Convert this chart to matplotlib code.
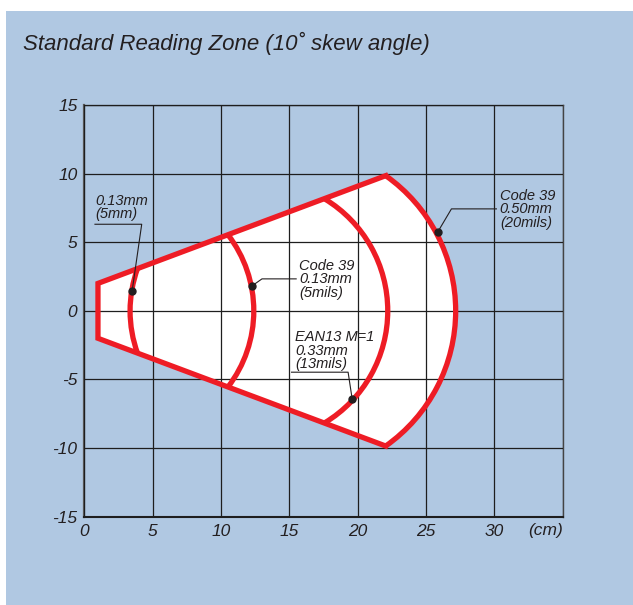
import numpy as np
import matplotlib.pyplot as plt
from matplotlib.patches import Polygon, Wedge, Arc, Rectangle

# axis ticks
x_ticks = [0, 5, 10, 15, 20, 25, 30, 35]
x_labels = ["0", "5", "10", "15", "20", "25", "30", ""]
y_ticks = [-15, -10, -5, 0, 5, 10, 15]
y_labels = ["-15", "-10", "-5", "0", "5", "10", "15"]

# reading zone outline (cm): left edge, apex of the cone
front_x = 1.0
front_half = 2.0
apex_x = 22.05
apex_y = 9.85

# arcs: (top end x, top end y, vertex x on the axis)
arc_ends_x = [3.9, 10.5, 17.6, 22.05]
arc_ends_y = [3.1, 5.56, 8.15, 9.85]
arc_vertex_x = [3.35, 12.4, 22.2, 27.17]

# callouts
label_texts = ["0.13mm\n(5mm)",
               "Code 39\n0.13mm\n(5mils)",
               "EAN13 M=1\n0.33mm\n(13mils)",
               "Code 39\n0.50mm\n(20mils)"]
label_x = [0.8, 15.7, 15.45, 30.4]
label_y = [8.55, 3.8, -1.4, 8.9]
dot_x = [3.5, 12.3, 19.6, 25.88]
dot_y = [1.46, 1.84, -6.44, 5.78]
leader_x = [[0.78, 4.2, 3.5], [12.3, 13.0, 15.5], [15.16, 19.3, 19.6], [25.88, 26.86, 30.15]]
leader_y = [[6.31, 6.31, 1.46], [1.84, 2.33, 2.33], [-4.47, -4.47, -6.44], [5.78, 7.43, 7.43]]

RED = "#ee1c25"
BLUE = "#b0c8e2"
INK = "#231f20"
FONT = "Liberation Sans"


def circle_through(ex, ey, vx):
    # circle centred on the x axis passing through (ex, +-ey) and (vx, 0)
    c = (vx ** 2 - ex ** 2 - ey ** 2) / (2 * (vx - ex))
    r = abs(vx - c)
    t = np.degrees(np.arctan2(ey, ex - c))
    if vx > c:
        return c, r, -t, t
    return c, r, t, 360 - t


fig = plt.figure(figsize=(6.33, 6.05), dpi=100)
fig.patch.set_facecolor("white")
fig.patches.append(Rectangle((6 / 633, 0), 1, 1 - 11 / 605, transform=fig.transFigure,
                             facecolor=BLUE, edgecolor="none", zorder=-10))

ax = fig.add_axes([84.3 / 633, 1 - 516.7 / 605, (562.7 - 84.3) / 633, (516.7 - 105) / 605])
ax.set_zorder(1)
ax.set_facecolor(BLUE)
ax.set_xlim(0, 35)
ax.set_ylim(-15, 15)

# white zone
ax.add_patch(Polygon([(front_x, -front_half), (front_x, front_half), (apex_x, apex_y), (apex_x, -apex_y)],
                     closed=True, facecolor="white", edgecolor="white", linewidth=0.5, zorder=1))
c, r, t1, t2 = circle_through(arc_ends_x[-1], arc_ends_y[-1], arc_vertex_x[-1])
ax.add_patch(Wedge((c, 0), r, t1, t2, facecolor="white", edgecolor="white", linewidth=0.5, zorder=1))

# red outline
ax.plot([apex_x, front_x, front_x, apex_x], [apex_y, front_half, -front_half, -apex_y],
        color=RED, linewidth=3.8, solid_joinstyle="miter", zorder=3)
for ex, ey, vx in zip(arc_ends_x, arc_ends_y, arc_vertex_x):
    c, r, t1, t2 = circle_through(ex, ey, vx)
    ax.add_patch(Arc((c, 0), 2 * r, 2 * r, theta1=t1, theta2=t2,
                     color=RED, linewidth=3.8, zorder=3))

# callouts
for lx, ly in zip(leader_x, leader_y):
    ax.plot(lx, ly, color=INK, linewidth=0.8, zorder=4)
ax.plot(dot_x, dot_y, "o", color=INK, markersize=5, zorder=5)
for txt, tx, ty in zip(label_texts, label_x, label_y):
    ax.text(tx, ty, txt, ha="left", va="top", fontsize=10.5, style="italic",
            family=FONT, color=INK, linespacing=0.95, zorder=6)

# grid
ax.set_xticks(x_ticks)
ax.set_xticklabels(x_labels)
ax.set_yticks(y_ticks)
ax.set_yticklabels(y_labels)
ax.set_axisbelow(False)
ax.grid(True, color="#1e1e1e", linewidth=0.9)
ax.tick_params(length=0, labelsize=12.5, labelcolor=INK, pad=5)
for lab in ax.get_xticklabels() + ax.get_yticklabels():
    lab.set_fontstyle("italic")
    lab.set_family(FONT)
for side in ["top", "right"]:
    ax.spines[side].set_color("#444444")
    ax.spines[side].set_linewidth(1.0)
ax.spines["left"].set_color("#555555")
ax.spines["left"].set_linewidth(1.6)
ax.spines["bottom"].set_color("#1e1e1e")
ax.spines["bottom"].set_linewidth(1.5)

ax.text(35, -15.45, "(cm)", ha="right", va="top", fontsize=12.5,
        style="italic", family=FONT, color=INK)

fig.text(23 / 633, 1 - 50 / 605, "Standard Reading Zone (10\u02da skew angle)", fontsize=16,
         style="italic", family=FONT, color=INK, va="baseline", ha="left")

plt.savefig("out.png", dpi=100)
